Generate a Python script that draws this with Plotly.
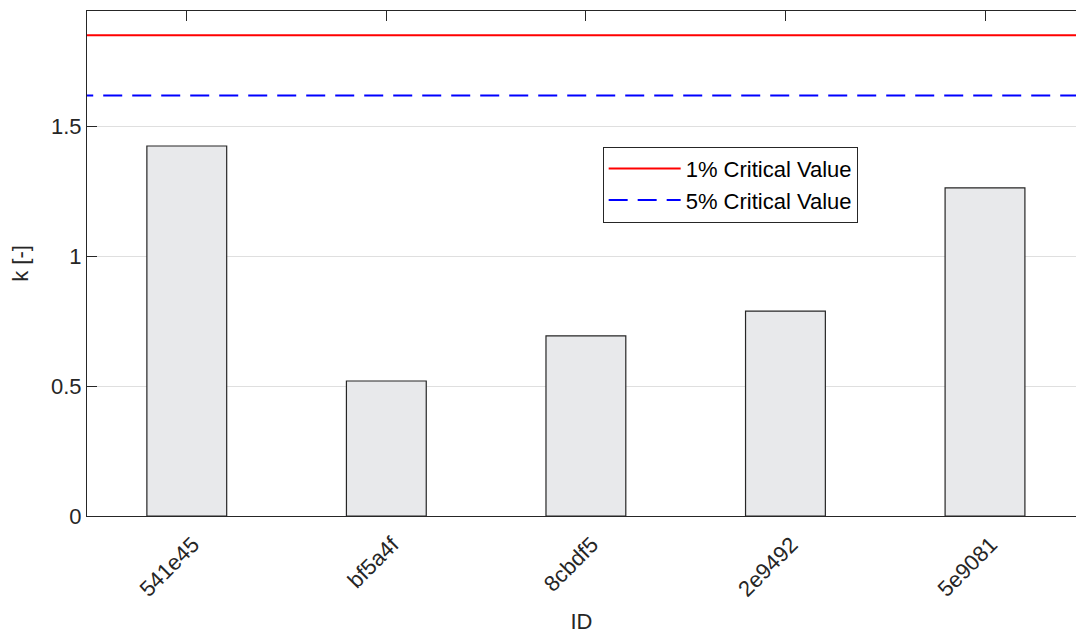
import plotly.graph_objects as go

ids = ["541e45", "bf5a4f", "8cbdf5", "2e9492", "5e9081"]
k_values = [1.425, 0.520, 0.694, 0.789, 1.264]
crit_1pct = 1.852
crit_5pct = 1.620
line_names = ["1% Critical Value", "5% Critical Value"]

FONT = "Liberation Sans, Arial, Helvetica, sans-serif"
AX = "#262626"
FS = 22

xpos = list(range(1, len(ids) + 1))

fig = go.Figure()
fig.add_trace(go.Bar(
    x=xpos, y=k_values, width=0.4,
    marker=dict(color="#e8e9eb", line=dict(color="#262626", width=1.2)),
    showlegend=False,
))
xl = [xpos[0] - 1, xpos[-1] + 1]
fig.add_trace(go.Scatter(
    x=xl, y=[crit_1pct, crit_1pct], mode="lines", name=line_names[0],
    line=dict(color="#ff0000", width=2),
))
fig.add_trace(go.Scatter(
    x=xl, y=[crit_5pct, crit_5pct], mode="lines", name=line_names[1],
    line=dict(color="#0000ff", width=2, dash="19px,10px"),
))

fig.update_layout(
    width=1076, height=634,
    margin=dict(l=87, r=0, t=11, b=118, pad=0),
    paper_bgcolor="white", plot_bgcolor="white",
    font=dict(family=FONT, size=FS, color=AX),
    legend=dict(
        x=0.5214, y=0.7313, xanchor="left", yanchor="top",
        bgcolor="white", bordercolor=AX, borderwidth=1,
        font=dict(size=FS, color="#000000"),
        tracegroupgap=0,
        itemwidth=72,
    ),
    xaxis=dict(
        range=[0.5, 5.456],
        tickmode="array", tickvals=xpos, ticktext=ids,
        tickangle=-45,
        ticks="inside", ticklen=10, tickcolor=AX, tickwidth=1,
        showline=True, linecolor=AX, linewidth=1, mirror="ticks",
        showgrid=False, zeroline=False,
        layer="below traces",
        ticklabelstandoff=6,
        ticklabelshift=6,
        title=dict(text="ID", font=dict(size=FS, color=AX), standoff=12),
        tickfont=dict(size=FS, color=AX),
    ),
    yaxis=dict(
        range=[0, 1.945],
        tickmode="array", tickvals=[0, 0.5, 1, 1.5], ticktext=["0", "0.5", "1", "1.5"],
        ticks="inside", ticklen=10, tickcolor=AX, tickwidth=1,
        showline=True, linecolor=AX, linewidth=1, mirror=False,
        showgrid=True, gridcolor="#dfdfdf", gridwidth=1,
        zeroline=False,
        layer="below traces",
        title=dict(text="k [-]", font=dict(size=FS, color=AX), standoff=16),
        tickfont=dict(size=FS, color=AX),
    ),
)

fig.write_html("out.html")
